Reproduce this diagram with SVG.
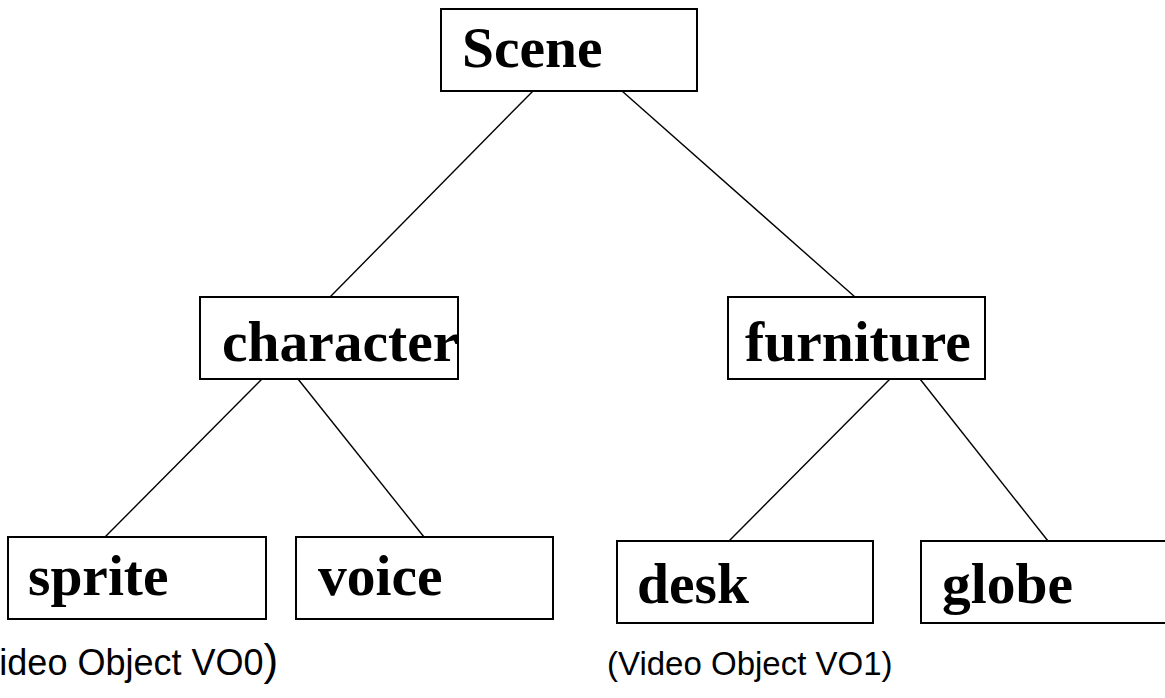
<svg xmlns="http://www.w3.org/2000/svg" width="1165" height="698" viewBox="0 0 1165 698">
<style>
.box{fill:#fff;stroke:#000;stroke-width:2}
.lbl{font-family:"Liberation Serif","Times New Roman",serif;font-weight:bold;font-size:57.5px;fill:#000}
.cap{font-family:"Liberation Sans",Arial,sans-serif;font-size:33px;fill:#000}
.edge{stroke:#000;stroke-width:1.4;fill:none}
</style>
<rect width="1165" height="698" fill="#fff"/>
<g id="connectors">
<line class="edge" x1="533" y1="91" x2="330" y2="297"/>
<line class="edge" x1="622" y1="91" x2="855" y2="297"/>
<line class="edge" x1="262" y1="379" x2="105" y2="537"/>
<line class="edge" x1="298" y1="379" x2="424" y2="537"/>
<line class="edge" x1="890" y1="379" x2="729" y2="541"/>
<line class="edge" x1="920" y1="379" x2="1048" y2="541"/>
</g>
<g id="scene">
<rect class="box" x="441" y="9" width="256" height="82"/>
<text class="lbl" x="462" y="67">Scene</text>
</g>
<g id="character">
<rect class="box" x="200" y="297" width="258" height="82"/>
<text class="lbl" x="222" y="361">character</text>
</g>
<g id="furniture">
<rect class="box" x="728" y="297" width="257" height="82"/>
<text class="lbl" x="745" y="361">furniture</text>
</g>
<g id="sprite">
<rect class="box" x="8" y="537" width="258" height="82"/>
<text class="lbl" x="28" y="595">sprite</text>
</g>
<g id="voice">
<rect class="box" x="296" y="537" width="257" height="82"/>
<text class="lbl" x="318" y="595">voice</text>
</g>
<g id="desk">
<rect class="box" x="617" y="541" width="256" height="82"/>
<text class="lbl" x="637" y="603">desk</text>
</g>
<g id="globe">
<rect class="box" x="921" y="541" width="260" height="82"/>
<text class="lbl" x="942" y="603">globe</text>
</g>
<g id="captions">
<text class="cap" x="-36" y="675" style="font-size:36px">(Video Object VO0<tspan style="font-size:44px">)</tspan></text>
<text class="cap" x="607" y="675">(Video Object VO1)</text>
</g>
</svg>
